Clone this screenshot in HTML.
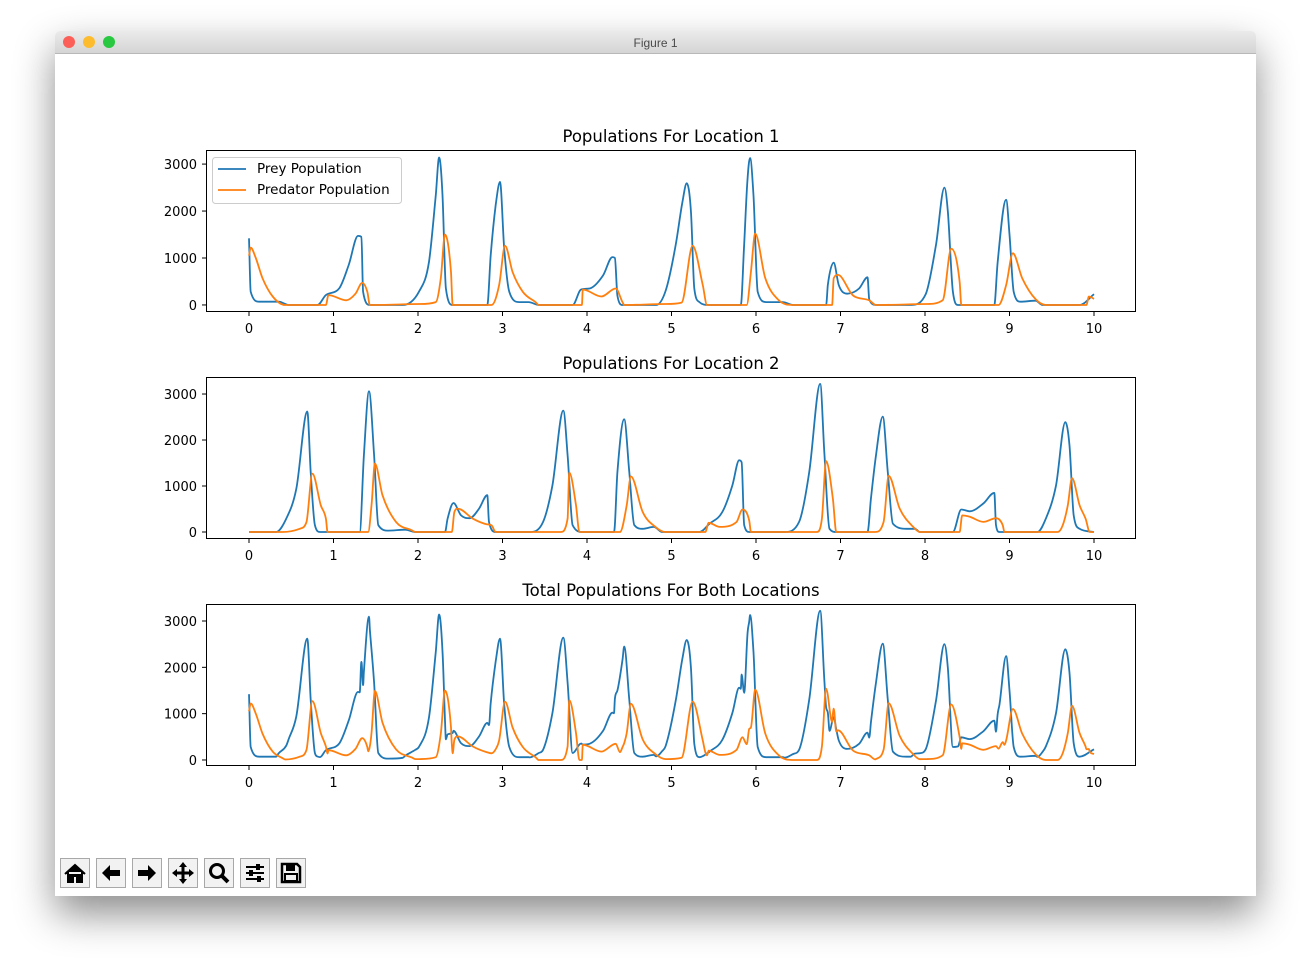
<!DOCTYPE html>
<html><head><meta charset="utf-8">
<style>
body{margin:0;width:1312px;height:976px;background:#fff;font-family:"Liberation Sans","DejaVu Sans",sans-serif;overflow:hidden;position:relative}
#win{position:absolute;left:55px;top:31px;width:1201px;height:865px;background:#fff;box-shadow:0 18px 40px rgba(0,0,0,0.45);border-radius:5px 5px 0 0}
#bar{position:absolute;left:0;top:0;width:1201px;height:22px;background:linear-gradient(#ebebeb,#d5d5d5);border-bottom:1px solid #b8b8b8;border-radius:5px 5px 0 0;text-align:center;font-size:12px;line-height:25px;color:#4a4a4a}
.dot{position:absolute;top:5px;width:12px;height:12px;border-radius:50%}
.tb{position:absolute;top:827px;width:30px;height:30px;border:1px solid #a8a8a8;background:#f2f2f2;box-sizing:border-box}
svg text{font-family:"DejaVu Sans","Liberation Sans",sans-serif}
</style></head><body>
<div id="win">
<div id="bar">Figure 1
<div class="dot" style="left:8px;background:#fc5f57"></div>
<div class="dot" style="left:28px;background:#fdbc2e"></div>
<div class="dot" style="left:48px;background:#28c840"></div>
</div>
<div class="tb" style="left:5px"><svg width="28" height="28"><path d="M4 15 L14 6 L24 15 M7 13 V23 H12 V17 H16 V23 H21 V13" fill="#000" stroke="#000" stroke-width="2"/></svg></div>
<div class="tb" style="left:41px"><svg width="28" height="28"><path d="M5 14 L13 6 V11 H23 V17 H13 V22 Z" fill="#000"/></svg></div>
<div class="tb" style="left:77px"><svg width="28" height="28"><path d="M23 14 L15 6 V11 H5 V17 H15 V22 Z" fill="#000"/></svg></div>
<div class="tb" style="left:113px"><svg width="28" height="28"><path d="M14 3 L18 8 H15.5 V12.5 H20 V10 L25 14 L20 18 V15.5 H15.5 V20 H18 L14 25 L10 20 H12.5 V15.5 H8 V18 L3 14 L8 10 V12.5 H12.5 V8 H10 Z" fill="#000"/></svg></div>
<div class="tb" style="left:149px"><svg width="28" height="28"><circle cx="12" cy="12" r="6.5" fill="none" stroke="#000" stroke-width="3"/><path d="M16 16 L23 23" stroke="#000" stroke-width="4"/></svg></div>
<div class="tb" style="left:185px"><svg width="28" height="28"><path d="M5 8H23M5 14H23M5 20H23" stroke="#000" stroke-width="2"/><rect x="15" y="5" width="4" height="6" fill="#000"/><rect x="8" y="11" width="4" height="6" fill="#000"/><rect x="16" y="17" width="4" height="6" fill="#000"/></svg></div>
<div class="tb" style="left:221px"><svg width="28" height="28"><path d="M5 5 H20 L23 8 V23 H5 Z" fill="none" stroke="#000" stroke-width="2.5"/><rect x="9" y="6" width="9" height="6" fill="#000"/><rect x="8" y="15" width="12" height="7" fill="none" stroke="#000" stroke-width="2"/></svg></div>
</div>
<svg id="chart" width="1312" height="976" style="position:absolute;left:0;top:0"></svg>
<script>
const xTicks=[0,1,2,3,4,5,6,7,8,9,10];
const yTicks=[0,1000,2000,3000];
const titles=["Populations For Location 1","Populations For Location 2","Total Populations For Both Locations"];
const prey1=[[0,1420],[0.02,280],[0.12,70],[0.35,70],[0.47,0],[0.81,0],[0.91,210],[1.07,360],[1.18,850],[1.29,1470],[1.33,1450],[1.35,280],[1.43,0],[1.82,0],[2.01,280],[2.13,920],[2.21,2340],[2.25,3140],[2.29,2340],[2.33,350],[2.41,0],[2.82,0],[2.86,1060],[2.92,2130],[2.97,2620],[3.02,1200],[3.08,280],[3.2,60],[3.31,60],[3.43,0],[3.83,0],[3.93,330],[4.03,350],[4.19,630],[4.30,1020],[4.33,1000],[4.36,200],[4.42,0],[4.82,0],[4.93,300],[5.05,1280],[5.13,2200],[5.18,2590],[5.23,2000],[5.27,350],[5.33,60],[5.44,0],[5.82,0],[5.86,1300],[5.90,2700],[5.93,3130],[5.97,2330],[6.02,280],[6.12,60],[6.32,60],[6.44,0],[6.83,0],[6.85,420],[6.92,900],[6.98,420],[7.08,240],[7.22,350],[7.32,590],[7.34,120],[7.42,0],[7.83,0],[8.01,240],[8.13,1280],[8.23,2500],[8.27,2000],[8.33,280],[8.39,0],[8.82,0],[8.86,920],[8.96,2240],[9.0,1500],[9.05,280],[9.13,70],[9.31,90],[9.39,0],[9.83,0],[10,230]];
const pred1=[[0,1050],[0.02,1220],[0.08,1000],[0.16,570],[0.28,180],[0.43,0],[0.91,0],[0.94,210],[1.15,100],[1.26,240],[1.34,470],[1.40,280],[1.43,0],[2.02,20],[2.21,60],[2.27,570],[2.32,1500],[2.39,700],[2.41,0],[2.87,0],[2.96,420],[3.03,1260],[3.12,700],[3.24,280],[3.39,60],[3.43,0],[3.94,0],[3.95,330],[4.17,180],[4.34,350],[4.42,60],[4.44,0],[4.93,20],[5.12,50],[5.25,1260],[5.37,420],[5.42,0],[5.89,0],[5.94,700],[5.99,1520],[6.11,570],[6.27,100],[6.43,0],[6.9,0],[6.92,570],[6.97,640],[7.15,200],[7.34,100],[7.42,0],[8.02,20],[8.21,100],[8.31,1200],[8.41,500],[8.43,0],[8.87,0],[8.96,420],[9.04,1100],[9.15,570],[9.31,120],[9.43,0],[9.91,0],[9.94,180],[10,130]];
const prey2=[[0,0],[0.32,0],[0.44,290],[0.56,940],[0.69,2620],[0.73,1300],[0.78,150],[0.84,0],[1.31,0],[1.36,1670],[1.42,3060],[1.48,1670],[1.53,150],[1.65,30],[1.85,50],[1.97,0],[2.32,0],[2.35,290],[2.42,630],[2.51,360],[2.61,300],[2.72,500],[2.82,800],[2.84,220],[2.92,0],[3.32,0],[3.48,220],[3.59,1010],[3.72,2640],[3.77,1670],[3.83,150],[3.95,0],[4.32,0],[4.36,1300],[4.44,2450],[4.50,1300],[4.56,150],[4.66,70],[4.79,110],[4.89,0],[5.33,0],[5.45,180],[5.6,430],[5.72,1010],[5.80,1560],[5.83,1520],[5.86,150],[5.92,0],[6.34,0],[6.51,220],[6.63,1300],[6.76,3220],[6.81,1670],[6.87,70],[6.95,0],[7.32,0],[7.36,720],[7.42,1670],[7.50,2510],[7.56,1300],[7.62,180],[7.78,70],[7.88,70],[7.94,0],[8.33,0],[8.43,490],[8.53,450],[8.69,620],[8.82,850],[8.84,150],[8.88,0],[9.33,0],[9.43,290],[9.55,1010],[9.66,2390],[9.71,1880],[9.76,360],[9.83,70],[10,0]];
const pred2=[[0,0],[0.40,0],[0.60,70],[0.68,220],[0.75,1270],[0.85,580],[0.91,290],[0.93,0],[1.41,0],[1.45,580],[1.49,1490],[1.58,800],[1.74,220],[1.93,35],[1.97,0],[2.40,0],[2.43,430],[2.47,510],[2.65,290],[2.81,170],[2.87,145],[2.92,0],[3.69,0],[3.77,290],[3.79,1290],[3.87,580],[3.91,0],[4.39,0],[4.47,580],[4.52,1210],[4.66,430],[4.81,110],[4.93,0],[5.40,0],[5.44,200],[5.57,110],[5.77,220],[5.84,490],[5.92,250],[5.94,0],[6.72,0],[6.78,290],[6.83,1540],[6.91,720],[6.95,0],[7.41,0],[7.51,220],[7.57,1220],[7.70,510],[7.86,110],[7.94,0],[8.41,0],[8.44,360],[8.53,330],[8.69,220],[8.84,300],[8.92,150],[8.94,0],[9.57,0],[9.63,145],[9.69,580],[9.74,1170],[9.83,580],[9.90,290],[9.95,0],[10,0]];

function interp(s,t){for(let i=1;i<s.length;i++){if(t<=s[i][0]){const a=s[i-1],b=s[i];const f=b[0]===a[0]?0:(t-a[0])/(b[0]-a[0]);return a[1]+f*(b[1]-a[1]);}}return s[s.length-1][1];}
function sumSeries(a,b){const ts=[...new Set(a.map(p=>p[0]).concat(b.map(p=>p[0])))].sort((x,y)=>x-y);return ts.map(t=>[t,interp(a,t)+interp(b,t)]);}
const preyT=sumSeries(prey1,prey2), predT=sumSeries(pred1,pred2);

// monotone cubic (Fritsch-Carlson) tangents for smooth drawing
function tangents(s){const n=s.length,d=[],m=new Array(n).fill(0);
  for(let i=0;i<n-1;i++)d.push((s[i+1][1]-s[i][1])/(s[i+1][0]-s[i][0]));
  m[0]=d[0];m[n-1]=d[n-2];
  for(let i=1;i<n-1;i++){m[i]=(d[i-1]*d[i]<=0)?0:(d[i-1]+d[i])/2;}
  for(let i=0;i<n-1;i++){if(d[i]===0){m[i]=0;m[i+1]=0;continue;}const a=m[i]/d[i],b=m[i+1]/d[i],h=a*a+b*b;if(h>9){const t=3/Math.sqrt(h);m[i]=t*a*d[i];m[i+1]=t*b*d[i];}}
  return m;}

const NS="http://www.w3.org/2000/svg";
const svg=document.getElementById('chart');
function el(tag,attrs,parent){const e=document.createElementNS(NS,tag);for(const k in attrs)e.setAttribute(k,attrs[k]);(parent||svg).appendChild(e);return e;}
const X0=206,X1=1136,XMIN=-0.509,XMAX=10.497;
const panels=[{top:150,bot:312,ymin:-150,ymax:3300,prey:prey1,pred:pred1},{top:377,bot:539,ymin:-152,ymax:3370,prey:prey2,pred:pred2},{top:604,bot:766,ymin:-130,ymax:3367,prey:preyT,pred:predT}];
panels.forEach((p,i)=>{
  const g=el('g',{});
  
  
  const xs=t=>X0+(t-XMIN)/(XMAX-XMIN)*(X1-X0);
  const ys=v=>p.bot-(v-p.ymin)/(p.ymax-p.ymin)*(p.bot-p.top);
  const tt=el('text',{x:671,y:p.top-8,'text-anchor':'middle','font-size':'16.5',fill:'#000'},g);
  tt.textContent=titles[i];
  
  
  xTicks.forEach(t=>{const x=xs(t);el('line',{x1:x,x2:x,y1:p.bot,y2:p.bot+4,stroke:'#000','stroke-width':1},g);
    const l=el('text',{x:x,y:p.bot+21,'text-anchor':'middle','font-size':'13',fill:'#000'},g);l.textContent=t;
    
    });
  yTicks.forEach(v=>{const y=ys(v);el('line',{x1:X0-4,x2:X0,y1:y,y2:y,stroke:'#000','stroke-width':1},g);
    const l=el('text',{x:X0-9,y:y+5,'text-anchor':'end','font-size':'13',fill:'#000'},g);l.textContent=v;
    
    });
  const cp='clip'+i;const c=el('clipPath',{id:cp},g);el('rect',{x:X0,y:p.top,width:X1-X0,height:p.bot-p.top},c);
  const mk=s=>{const m=tangents(s);let d='M'+xs(s[0][0]).toFixed(1)+' '+ys(s[0][1]).toFixed(1);
    for(let j=0;j<s.length-1;j++){const h=(s[j+1][0]-s[j][0])/3;
      d+='C'+xs(s[j][0]+h).toFixed(1)+' '+ys(s[j][1]+m[j]*h).toFixed(1)+' '+xs(s[j+1][0]-h).toFixed(1)+' '+ys(s[j+1][1]-m[j+1]*h).toFixed(1)+' '+xs(s[j+1][0]).toFixed(1)+' '+ys(s[j+1][1]).toFixed(1);}
    return d;};
  const l1=el('path',{d:mk(p.prey),fill:'none',stroke:'#1f77b4','stroke-width':1.8,'clip-path':'url(#'+cp+')','stroke-linejoin':'round'},g);
  
  
  const l2=el('path',{d:mk(p.pred),fill:'none',stroke:'#ff7f0e','stroke-width':1.8,'clip-path':'url(#'+cp+')','stroke-linejoin':'round'},g);
  
  
  el('rect',{x:X0+0.5,y:p.top+0.5,width:X1-X0-1,height:p.bot-p.top-1,fill:'none',stroke:'#000','stroke-width':1},g);
});
const lg=el('g',{});


el('rect',{x:212.5,y:157.5,width:189,height:46,rx:3,fill:'#fff','fill-opacity':0.8,stroke:'#ccc'},lg);
el('line',{x1:218,x2:246,y1:169,y2:169,stroke:'#1f77b4','stroke-width':1.8},lg);
el('line',{x1:218,x2:246,y1:190,y2:190,stroke:'#ff7f0e','stroke-width':1.8},lg);
const t1=el('text',{x:257,y:173,'font-size':'13.5',fill:'#000'},lg);t1.textContent='Prey Population';


const t2=el('text',{x:257,y:194,'font-size':'13.5',fill:'#000'},lg);t2.textContent='Predator Population';


</script>
</body></html>
